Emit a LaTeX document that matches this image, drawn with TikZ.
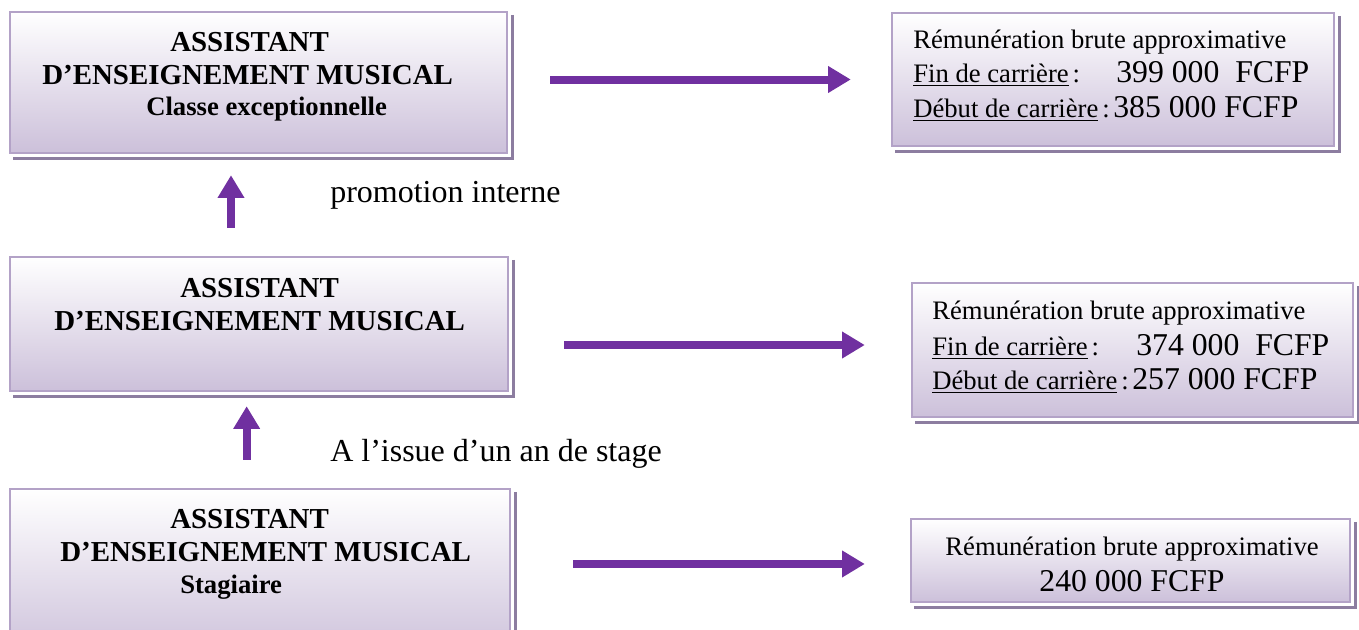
\documentclass[tikz,border=0pt]{standalone}
\usepackage{fontspec}
\setmainfont{Liberation Serif}
\usetikzlibrary{arrows.meta,fit}

\definecolor{flowpurple}{HTML}{7030A0}
\definecolor{boxedge}{HTML}{B3A2C7}
\definecolor{boxfill}{HTML}{CCC0DA}
\definecolor{boxshade}{HTML}{8C7DA0}
\newcommand{\gradetitle}{\fontsize{21.7}{26}\selectfont\bfseries}
\newcommand{\gradesub}{\fontsize{20}{24}\selectfont\bfseries}
\newcommand{\paytext}{\fontsize{20}{24}\selectfont}
\newcommand{\paysum}{\fontsize{23.8}{29}\selectfont}
\newcommand{\steptext}{\fontsize{24}{29}\selectfont}
\newcommand{\payline}[1]{\setbox0\hbox{#1}\rlap{\rule[-3pt]{\wd0}{1.1pt}}\box0\hspace{0.15em}}

\begin{document}
\begin{tikzpicture}[x=0.75pt,y=-0.75pt,
    gradebox/.style={draw=boxedge, line width=1.8pt, top color=white, bottom color=boxfill, inner sep=0pt},
    shadowline/.style={draw=boxshade, line width=2.4pt},
    flow/.style={draw=flowpurple, line width=6pt, -{Triangle[length=17pt,width=19pt]}},
    txt/.style={anchor=base west, inner sep=0pt}]
    \useasboundingbox (0,0) rectangle (1359,629);

    % boxes
    \node[gradebox, fit={(10,12) (507,153)}] (cls) {};
    \node[gradebox, fit={(892,13) (1334,146)}] (pcls) {};
    \node[gradebox, fit={(10,257) (508,391)}] (ae) {};
    \node[gradebox, fit={(912,283) (1353,417)}] (pae) {};
    \node[gradebox, fit={(10,489) (510,660)}] (stg) {};
    \node[gradebox, fit={(911,519) (1350,602)}] (pstg) {};
    \foreach \b in {cls,pcls,ae,pae,stg,pstg}
        \draw[shadowline] ([shift={(4,4)}]\b.north east) -- ([shift={(4,4)}]\b.south east) -- ([shift={(4,4)}]\b.south west);

    % grades
    \node[txt, font=\gradetitle] (clsA) at (170,51) {ASSISTANT};
    \node[txt, font=\gradetitle] (clsB) at (42,84) {D’ENSEIGNEMENT MUSICAL};
    \node[txt, font=\gradesub] (clsC) at (146,115) {Classe exceptionnelle};

    \node[txt, font=\gradetitle] (aeA) at (180,297) {ASSISTANT};
    \node[txt, font=\gradetitle] (aeB) at (54,330) {D’ENSEIGNEMENT MUSICAL};

    \node[txt, font=\gradetitle] (stgA) at (170,528) {ASSISTANT};
    \node[txt, font=\gradetitle] (stgB) at (60,561) {D’ENSEIGNEMENT MUSICAL};
    \node[txt, font=\gradesub] (stgC) at (180,593) {Stagiaire};

    % pay
    \node[txt, font=\paytext] (pclsA) at (913,48) {Rémunération brute approximative};
    \node[txt, font=\paytext] (pclsB) at (913,82) {\payline{Fin de carrière}:};
    \node[txt, font=\paysum] (pclsC) at (1116,82) {399 000 \ FCFP};
    \node[txt, font=\paytext] (pclsD) at (913,117) {\payline{Début de carrière}:};
    \node[txt, font=\paysum] (pclsE) at (1113,117) {385 000 FCFP};

    \node[txt, font=\paytext] (paeA) at (932,319) {Rémunération brute approximative};
    \node[txt, font=\paytext] (paeB) at (932,355) {\payline{Fin de carrière}:};
    \node[txt, font=\paysum] (paeC) at (1136,355) {374 000 \ FCFP};
    \node[txt, font=\paytext] (paeD) at (932,389) {\payline{Début de carrière}:};
    \node[txt, font=\paysum] (paeE) at (1132,389) {257 000 FCFP};

    \node[anchor=base, inner sep=0pt, font=\paytext] (pstgA) at (1132,555) {Rémunération brute approximative};
    \node[anchor=base, inner sep=0pt, font=\paysum] (pstgB) at (1132,591) {240 000 FCFP};

    % steps
    \node[txt, font=\steptext] (promo) at (330,202) {promotion interne};
    \node[txt, font=\steptext] (stage) at (330,461) {A l’issue d’un an de stage};

    % arrows
    \draw[flow, shorten <=31.5pt, shorten >=30pt] (cls.east |- pcls.west) -- (pcls.west);
    \draw[flow, shorten <=41.25pt, shorten >=34.5pt] ([yshift=3.75pt]ae.east |- pae.west) -- ([yshift=3.75pt]pae.west);
    \draw[flow, shorten <=46.5pt, shorten >=33.75pt] ([yshift=-2.6pt]stg.east |- pstg.west) -- ([yshift=-2.6pt]pstg.west);
    \draw[flow, shorten <=21pt, shorten >=15.75pt] ([xshift=-21pt]ae.north) -- ([xshift=-21pt]ae.north |- cls.south);
    \draw[flow, shorten <=21pt, shorten >=10.5pt] ([xshift=-10pt]stg.north) -- ([xshift=-10pt]stg.north |- ae.south);
\end{tikzpicture}
\end{document}
